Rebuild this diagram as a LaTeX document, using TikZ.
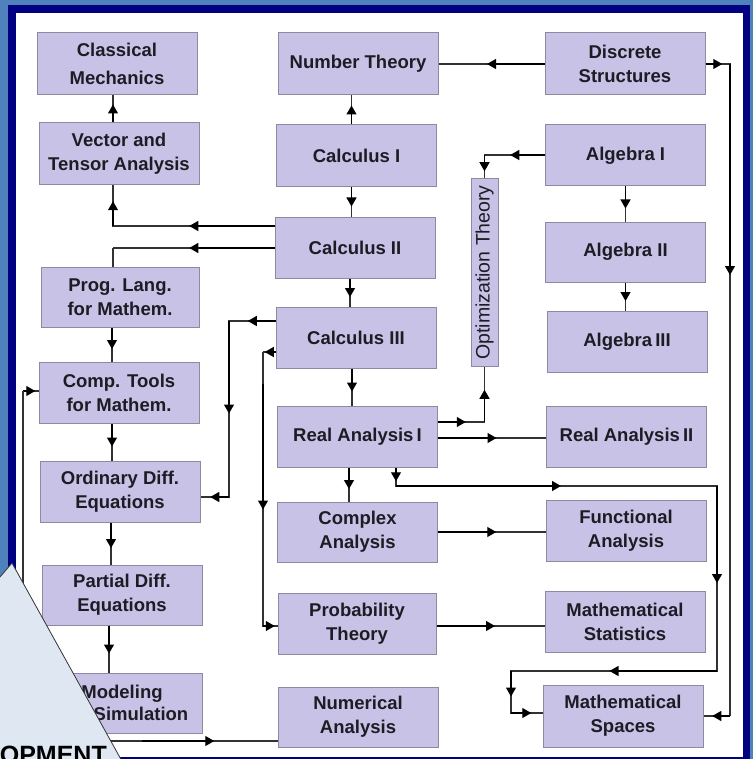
\documentclass[tikz,border=0pt]{standalone}
\usepackage{fontspec}
\usepackage{graphicx}
\setmainfont{Liberation Sans}
\usetikzlibrary{arrows.meta,decorations.pathreplacing,calc}
\definecolor{outerblue}{RGB}{79,129,189}
\definecolor{navyb}{RGB}{0,0,128}
\definecolor{lav}{RGB}{200,195,230}
\definecolor{boxedge}{RGB}{140,138,160}
\definecolor{linec}{RGB}{50,50,50}
\definecolor{callfill}{RGB}{222,231,242}
\definecolor{txt}{RGB}{28,28,36}
\tikzset{
  box/.style={draw=boxedge, line width=1pt, fill=lav, minimum width=160pt, minimum height=61pt,
    inner sep=0pt, align=center, font=\fontsize{18.5}{24}\selectfont\bfseries, text=txt},
  conn/.style={draw=linec, line width=1.2pt},
  segarrows/.style={postaction={decorate,decoration={show path construction,
     lineto code={\draw[black, line width=1.2pt, -{Triangle[length=9pt,width=10pt]}, shorten >=-4.5pt]
       (\tikzinputsegmentfirst) -- ($(\tikzinputsegmentfirst)!0.5!(\tikzinputsegmentlast)$);}}}},
}
\begin{document}
\begin{tikzpicture}[x=1pt,y=-1pt]
\useasboundingbox (0,0) rectangle (753,759);
% frame
\fill[outerblue] (0,0) rectangle (753,759);
\fill[navyb] (8,5) rectangle (750,759);
\fill[white] (16,13) rectangle (743,757);

% boxes
\node[box, minimum height=62pt, font=\fontsize{18.5}{28}\selectfont\bfseries] (CM) at (117,64) {Classical\\Mechanics};
\node[box, minimum height=62pt] (VT) at (119,154) {Vector and\\Tensor Analysis};
\node[box, minimum height=62pt] (NT) at (358,64) {Number Theory};
\node[box, minimum height=62pt] (C1) at (356.5,156) {Calculus I};
\node[box] (C2) at (355,247.5) {Calculus II};
\node[box, minimum height=62pt] (DS) at (625,64) {Discrete\\Structures};
\node[box] (A1) at (625.5,155.5) {Algebra I};
\node[box, minimum width=27pt, minimum height=187pt, font=\fontsize{19.5}{22}\selectfont] (OT) at (484.5,272.5) {\rotatebox{90}{Optimization Theory}};
\node[box, minimum height=60pt] (A2) at (625.5,252) {Algebra II};
\node[box] (A3) at (627,341.5) {Algebra\,III};
\node[box, minimum width=158pt, minimum height=60pt] (PL) at (120,297) {Prog. Lang.\\for Mathem.};
\node[box] (C3) at (356,337.5) {Calculus III};
\node[box] (CT) at (119,392.5) {Comp. Tools\\for Mathem.};
\node[box] (RA1) at (357.5,436.5) {Real Analysis\,I};
\node[box] (RA2) at (626.5,436.5) {Real Analysis\,II};
\node[box] (ODE) at (120,491.5) {Ordinary Diff.\\Equations};
\node[box, minimum height=60pt] (CA) at (357.5,532) {Complex\\Analysis};
\node[box] (FA) at (626,530.5) {Functional\\Analysis};
\node[box, minimum height=60pt] (PDE) at (122,595) {Partial Diff.\\Equations};
\node[box, minimum width=158pt] (PT) at (357,623.5) {Probability\\Theory};
\node[box] (MS) at (625,621.5) {Mathematical\\Statistics};
\node[box, minimum height=60pt, font=\fontsize{18.5}{22}\selectfont\bfseries] (MSim) at (122,703) {Modeling\\and Simulation};
\node[box, minimum height=60pt] (NA) at (358,717) {Numerical\\Analysis};
\node[box, minimum height=62pt] (MSp) at (623,716) {Mathematical\\Spaces};

% corner coordinates
\coordinate (k4) at (113,226);
\coordinate (k5) at (113,248);
\coordinate (k7a) at (730,64);
\coordinate (k7b) at (730,477);
\coordinate (k7c) at (730,716);
\coordinate (k8) at (484.5,155);
\coordinate (k14a) at (229,321);
\coordinate (k14b) at (229,497);
\coordinate (k15a) at (263,352);
\coordinate (k15b) at (263,384);
\coordinate (k15c) at (263,626);
\coordinate (k17) at (484.5,422);
\coordinate (k20a) at (396,486);
\coordinate (k20b) at (717,486);
\coordinate (k20c) at (717,671);
\coordinate (k20d) at (511,671);
\coordinate (k20e) at (511,713);
\coordinate (k25a) at (23,391);
\coordinate (k25b) at (23,741);
\coordinate (k25c) at (142,741);

% connectors
\draw[conn,segarrows] ([xshift=-6pt]VT.north) -- ([xshift=-6pt]VT.north |- CM.south);
\draw[conn,segarrows] ([xshift=-5pt]C1.north) -- ([xshift=-5pt]C1.north |- NT.south);
\draw[conn,segarrows] ([xshift=-5pt]C1.south) -- ([xshift=-5pt]C1.south |- C2.north);
\draw[conn,segarrows] (C2.west |- k4) -- (k4) -- (k4 |- VT.south);
\draw[conn,segarrows] (C2.west |- k5) -- (k5);
\draw[conn] (k5) -- (k5 |- PL.north);
\draw[conn,segarrows] (DS.west) -- (DS.west -| NT.east);
\draw[conn,segarrows] (DS.east) -- (k7a) -- (k7b);
\draw[conn] (k7b) -- (k7c);
\draw[conn,segarrows] (k7c) -- (k7c -| MSp.east);
\draw[conn,segarrows] (A1.west |- k8) -- (k8) -- (OT.north);
\draw[conn,segarrows] (A1.south) -- (A1.south |- A2.north);
\draw[conn,segarrows] (A2.south) -- (A2.south |- A3.north);
\draw[conn,segarrows] ([xshift=-8pt]PL.south) -- ([xshift=-8pt]PL.south |- CT.north);
\draw[conn,segarrows] ([xshift=-7pt]CT.south) -- ([xshift=-7pt]CT.south |- ODE.north);
\draw[conn,segarrows] ([xshift=-5pt]C2.south) -- ([xshift=-5pt]C2.south |- C3.north);
\draw[conn,segarrows] (C3.west |- k14a) -- (k14a) -- (k14b) -- (k14b -| ODE.east);
\draw[conn,segarrows] (C3.west |- k15a) -- (k15a);
\draw[conn] (k15a) -- (k15b);
\draw[conn,segarrows] (k15b) -- (k15c) -- (k15c -| PT.west);
\draw[conn,segarrows] ([xshift=-4pt]C3.south) -- ([xshift=-4pt]C3.south |- RA1.north);
\draw[conn,segarrows] (RA1.east |- k17) -- (k17) -- (OT.south);
\draw[conn,segarrows] ([yshift=-1.5pt]RA1.east) -- ([yshift=-1.5pt]RA1.east -| RA2.west);
\draw[conn,segarrows] ([xshift=-8.5pt]RA1.south) -- ([xshift=-8.5pt]RA1.south |- CA.north);
\draw[conn,segarrows] (RA1.south -| k20a) -- (k20a) -- (k20b) -- (k20c) -- (k20d) -- (k20e) -- (k20e -| MSp.west);
\draw[conn,segarrows] (CA.east) -- (CA.east -| FA.west);
\draw[conn,segarrows] ([yshift=-2.5pt]PT.east) -- ([yshift=-2.5pt]PT.east -| MS.west);
\draw[conn,segarrows] ([xshift=-9pt]ODE.south) -- ([xshift=-9pt]ODE.south |- PDE.north);
\draw[conn,segarrows] ([xshift=-13pt]PDE.south) -- ([xshift=-13pt]PDE.south |- MSim.north);
\draw[conn,segarrows] (k25a) -- (k25a -| CT.west);
\draw[conn] (k25a) -- (k25b) -- (k25c);
\draw[conn,segarrows] (k25c) -- (k25c -| NA.west);

% callout
\fill[callfill] (0,577) -- (12,563) -- (123,763) -- (0,763) -- cycle;
\draw[black!80, line width=0.8pt] (0,577) -- (12,563) -- (123,763);
\node[anchor=base east, inner sep=0pt, font=\fontsize{25}{30}\selectfont\bfseries, text=black] (dev) at (107,763) {DEVELOPMENT};
\end{tikzpicture}
\end{document}
